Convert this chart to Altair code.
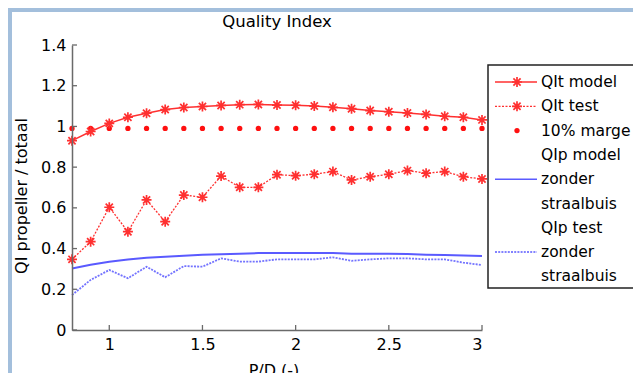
import altair as alt
import pandas as pd

# ---------------- data ----------------
pd_vals = [0.8, 0.9, 1.0, 1.1, 1.2, 1.3, 1.4, 1.5, 1.6, 1.7, 1.8, 1.9,
           2.0, 2.1, 2.2, 2.3, 2.4, 2.5, 2.6, 2.7, 2.8, 2.9, 3.0]
qit_model = [0.930, 0.975, 1.015, 1.045, 1.065, 1.083, 1.093, 1.098, 1.103, 1.107, 1.108, 1.105,
             1.104, 1.100, 1.094, 1.087, 1.078, 1.072, 1.066, 1.059, 1.050, 1.045, 1.032]
qit_test = [0.347, 0.434, 0.603, 0.483, 0.639, 0.532, 0.663, 0.652, 0.756, 0.701, 0.701, 0.763,
            0.758, 0.765, 0.778, 0.737, 0.753, 0.765, 0.783, 0.770, 0.778, 0.753, 0.742]
marge = [0.99, 0.99, 0.99, 0.99, 0.99, 0.99, 0.99, 0.99, 0.99, 0.99, 0.99, 0.99,
         0.99, 0.99, 0.99, 0.99, 0.99, 0.99, 0.99, 0.99, 0.99, 0.99, 0.99]
qip_model = [0.302, 0.320, 0.335, 0.346, 0.355, 0.360, 0.365, 0.370, 0.372, 0.375, 0.378, 0.378,
             0.378, 0.378, 0.378, 0.375, 0.374, 0.374, 0.373, 0.370, 0.368, 0.366, 0.363]
qip_test = [0.172, 0.246, 0.295, 0.254, 0.311, 0.259, 0.314, 0.311, 0.352, 0.336, 0.336, 0.347,
            0.347, 0.347, 0.357, 0.340, 0.347, 0.352, 0.352, 0.347, 0.347, 0.331, 0.319]

x_ticks = [1, 1.5, 2, 2.5, 3]
y_ticks = [0, 0.2, 0.4, 0.6, 0.8, 1.0, 1.2, 1.4]

legend_lines = ["QIt model", "QIt test", "10% marge", "QIp model", "zonder",
                "straalbuis", "QIp test", "zonder", "straalbuis"]

title_text = "Quality Index"
x_title = "P/D (-)"
y_title = "QI propeller / totaal"

# ---------------- style ----------------
FONT = "DejaVu Sans"
RED = "#ff3030"
BLUE = "#5a5aff"
AXIS_GREY = "#6a6a6a"
FRAME_BLUE = "#a3bfdc"
STAR = "M0,-1L0,1M-1,0L1,0M-0.72,-0.72L0.72,0.72M-0.72,0.72L0.72,-0.72"

W, H = 410, 285

df = pd.DataFrame({
    "pd": pd_vals,
    "qit_model": qit_model,
    "qit_test": qit_test,
    "marge": marge,
    "qip_model": qip_model,
    "qip_test": qip_test,
})

xscale = alt.Scale(domain=[0.8, 3.0], nice=False, zero=False)
yscale = alt.Scale(domain=[0, 1.4], nice=False)
xaxis = alt.Axis(values=x_ticks, format="~g", ticks=False, grid=False, labelPadding=6,
                 labelFontSize=16, labelFont=FONT, labelColor="black", zindex=2,
                 domainColor=AXIS_GREY, domainWidth=1.5, title=None)
yaxis = alt.Axis(values=y_ticks, format="~g", ticks=False, grid=False, labelPadding=6,
                 labelFontSize=16, labelFont=FONT, labelColor="black", zindex=2,
                 domainColor=AXIS_GREY, domainWidth=1.5, title=None)


def X(field="pd"):
    return alt.X(field, type="quantitative", scale=xscale, axis=xaxis, title=None)


def Y(field):
    return alt.Y(field, type="quantitative", scale=yscale, axis=yaxis, title=None)


one = pd.DataFrame({"a": [0]})

# white figure area (blue window frame shows at top and left)
bg = alt.Chart(one).mark_rect(fill="white").encode(
    x=alt.value(-60), x2=alt.value(600), y=alt.value(-33), y2=alt.value(340))

base = alt.Chart(df)

l_qit_model = base.mark_line(color=RED, strokeWidth=1.5).encode(x=X(), y=Y("qit_model"))
p_qit_model = base.mark_point(shape=STAR, size=100, color=RED, filled=False,
                              strokeWidth=1.7, opacity=1).encode(x=X(), y=Y("qit_model"))
l_qit_test = base.mark_line(color=RED, strokeWidth=1.3, strokeDash=[2, 1.5]).encode(
    x=X(), y=Y("qit_test"))
p_qit_test = base.mark_point(shape=STAR, size=100, color=RED, filled=False,
                             strokeWidth=1.7, opacity=1).encode(x=X(), y=Y("qit_test"))
p_marge = base.mark_circle(size=28, color="#ff1010", opacity=1).encode(x=X(), y=Y("marge"))
l_qip_model = base.mark_line(color=BLUE, strokeWidth=2).encode(x=X(), y=Y("qip_model"))
l_qip_test = base.mark_line(color=BLUE, strokeWidth=1.8, strokeDash=[2, 1.2], opacity=0.85).encode(
    x=X(), y=Y("qip_test"))

# inward ticks (MATLAB style)
yt = alt.Chart(pd.DataFrame({"v": y_ticks})).mark_rule(color=AXIS_GREY, strokeWidth=1.3).encode(
    y=Y("v"), x=alt.value(0), x2=alt.value(5))
xt = alt.Chart(pd.DataFrame({"v": x_ticks})).mark_rule(color=AXIS_GREY, strokeWidth=1.3).encode(
    x=X("v"), y=alt.value(H), y2=alt.value(H - 5))

# titles
t_title = alt.Chart(pd.DataFrame({"t": [title_text]})).mark_text(
    font=FONT, fontSize=16.5, color="black", baseline="middle", align="center").encode(
    text="t:N", x=alt.value(W / 2), y=alt.value(-23))
t_x = alt.Chart(pd.DataFrame({"t": [x_title]})).mark_text(
    font=FONT, fontSize=16, color="black", baseline="alphabetic", align="center").encode(
    text="t:N", x=alt.value(202), y=alt.value(331))
t_y = alt.Chart(pd.DataFrame({"t": [y_title]})).mark_text(
    font=FONT, fontSize=16, color="black", baseline="middle", align="center", angle=270).encode(
    text="t:N", x=alt.value(-50), y=alt.value(151))

# legend
LX0, LX1, LSYM, LTXT = 423, 465, 445, 469
ROW0, ROWSTEP = 37, 24.3
leg_box = alt.Chart(one).mark_rect(fill="white", stroke="#222222", strokeWidth=1.5).encode(
    x=alt.value(416), x2=alt.value(620), y=alt.value(20), y2=alt.value(243))


def ry(r):
    return ROW0 + r * ROWSTEP


leg_texts = [
    alt.Chart(pd.DataFrame({"t": [lab]})).mark_text(
        font=FONT, fontSize=15.5, color="black", align="left", baseline="middle").encode(
        text="t:N", x=alt.value(LTXT), y=alt.value(ry(i)))
    for i, lab in enumerate(legend_lines)
]

leg_items = [
    alt.Chart(one).mark_rule(color=RED, strokeWidth=1.5).encode(
        x=alt.value(LX0), x2=alt.value(LX1), y=alt.value(ry(0))),
    alt.Chart(one).mark_point(shape=STAR, size=100, color=RED, filled=False, strokeWidth=1.7, opacity=1).encode(
        x=alt.value(LSYM), y=alt.value(ry(0))),
    alt.Chart(one).mark_rule(color=RED, strokeWidth=1.3, strokeDash=[2, 1.5]).encode(
        x=alt.value(LX0), x2=alt.value(LX1), y=alt.value(ry(1))),
    alt.Chart(one).mark_point(shape=STAR, size=100, color=RED, filled=False, strokeWidth=1.7, opacity=1).encode(
        x=alt.value(LSYM), y=alt.value(ry(1))),
    alt.Chart(one).mark_circle(size=28, color="#ff1010", opacity=1).encode(
        x=alt.value(LSYM), y=alt.value(ry(2))),
    alt.Chart(one).mark_rule(color=BLUE, strokeWidth=1.5).encode(
        x=alt.value(LX0), x2=alt.value(LX1), y=alt.value(ry(4))),
    alt.Chart(one).mark_rule(color=BLUE, strokeWidth=1.5, strokeDash=[2, 1.2]).encode(
        x=alt.value(LX0), x2=alt.value(LX1), y=alt.value(ry(7))),
]

chart = alt.layer(
    bg,
    l_qip_model, l_qip_test,
    l_qit_model, l_qit_test,
    p_marge, p_qit_model, p_qit_test,
    yt, xt,
    t_title, t_x, t_y,
    leg_box, *leg_texts, *leg_items,
).properties(
    width=W, height=H,
    autosize=alt.AutoSizeParams(type="none"),
    padding={"left": 64, "top": 37, "right": 151, "bottom": 43},
    background=FRAME_BLUE,
).configure_view(stroke="transparent")

chart.save("out.html", embed_options={"renderer": "svg", "actions": False})
